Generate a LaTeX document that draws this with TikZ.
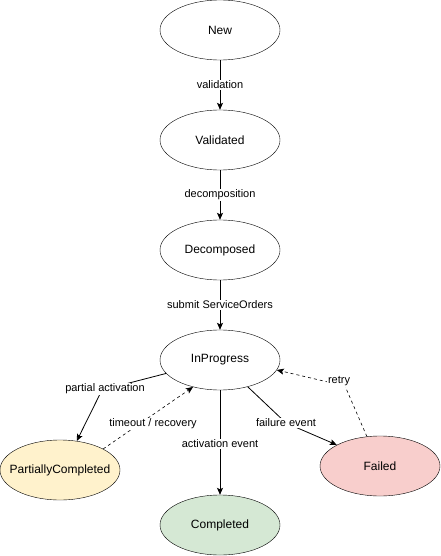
\documentclass[tikz,border=0pt]{standalone}
\usepackage{fontspec}
\setmainfont{Liberation Sans}
\usetikzlibrary{arrows.meta,shapes.geometric}
\definecolor{pcfill}{HTML}{FFF2CC}
\definecolor{okfill}{HTML}{D5E8D4}
\definecolor{errfill}{HTML}{F8CECC}
\tikzset{
	state/.style={draw,ellipse,minimum width=120pt,minimum height=60pt,inner ysep=0pt,inner xsep=-12pt,font=\fontsize{12}{14}\selectfont},
	lbl/.style={fill=white,inner sep=1pt,font=\fontsize{11}{13}\selectfont},
	trans/.style={->,line width=0.8pt},
	back/.style={->,dash pattern=on 3pt off 3pt,line width=0.6pt}
}
\begin{document}
\begin{tikzpicture}[x=1pt,y=-1pt,>={Stealth[length=7pt,width=6pt,inset=1.5pt]}]
	\useasboundingbox (0,0) rectangle (441,556);
	\node[state] (new) at (220,30) {New};
	\node[state] (val) at (220,140) {Validated};
	\node[state] (dec) at (220,250) {Decomposed};
	\node[state] (inp) at (220,360) {InProgress};
	\node[state,fill=pcfill] (pc) at (60,470) {PartiallyCompleted};
	\node[state,fill=okfill] (done) at (220,525) {Completed};
	\node[state,fill=errfill] (fail) at (380,466) {Failed};
	% waypoints of the bent edges
	\coordinate (wpa) at (102,390);
	\coordinate (wfe) at (286,423);
	\coordinate (wrt) at (345,386);
	\draw[trans] (new) -- node[lbl]{validation} (val);
	\draw[trans] (val) -- node[lbl]{decomposition} (dec);
	\draw[trans] (dec) -- node[lbl]{submit ServiceOrders} (inp);
	\draw[trans] (inp) -- node[lbl,pos=0.51]{activation event} (done);
	\draw[trans] (inp.194) -- (wpa) -- (pc.60);
	\node[lbl] at (105,389) {partial activation};
	\draw[back] (pc.26) -- (inp.-135);
	\node[lbl] at (153,424) {timeout / recovery};
	\draw[trans] (inp.-44) -- (wfe) -- (fail.154);
	\node[lbl] at (wfe) {failure event};
	\draw[back] (fail.114) -- (wrt) -- (inp.-10);
	\node[lbl] at (339,381) {retry};
\end{tikzpicture}
\end{document}
